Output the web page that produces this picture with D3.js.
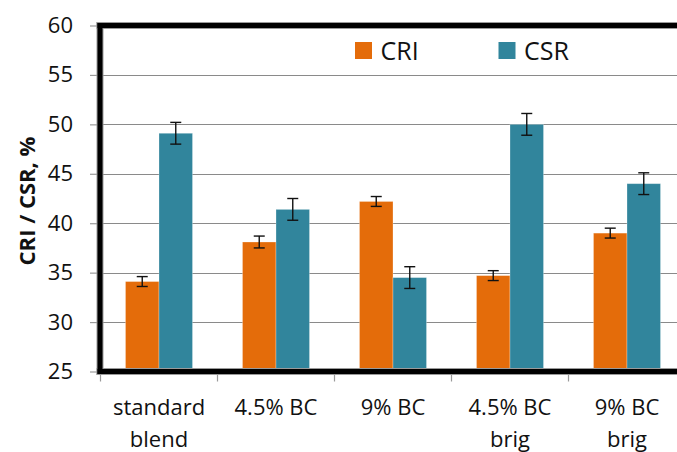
<!DOCTYPE html>
<html>
<head>
<meta charset="utf-8">
<script src="https://cdn.jsdelivr.net/npm/d3@7"></script>
<style>
  html, body { margin: 0; padding: 0; background: #fff; }
  svg { display: block; font-family: "Open Sans", "Noto Sans", sans-serif; }
</style>
</head>
<body>
<svg id="chart" width="677" height="452"></svg>
<script>
// Blend categories (two-line labels)
const categories = ["standard blend", "4.5% BC", "9% BC", "4.5% BC brig", "9% BC brig"];
const categoryLines = [["standard", "blend"], ["4.5% BC"], ["9% BC"], ["4.5% BC", "brig"], ["9% BC", "brig"]];
const seriesNames = ["CRI", "CSR"];
const criValues = [34.1, 38.1, 42.2, 34.7, 39.0];
const criErrors = [0.5, 0.6, 0.5, 0.5, 0.5];
const csrValues = [49.1, 41.4, 34.5, 50.0, 44.0];
const csrErrors = [1.1, 1.1, 1.1, 1.1, 1.1];
const yTicks = [25, 30, 35, 40, 45, 50, 55, 60];
const colors = { CRI: "#E46C0A", CSR: "#31859C" };

const svg = d3.select("#chart");
const plot = { left: 100.5, right: 685.5, top: 25.5, bottom: 371.5 };

const x0 = d3.scaleBand()
  .domain(categories)
  .range([plot.left, plot.right])
  .paddingInner(0.427)
  .paddingOuter(0.2135);
const x1 = d3.scaleBand()
  .domain(seriesNames)
  .range([0, x0.bandwidth()]);
const y = d3.scaleLinear().domain([25, 60]).range([plot.bottom, plot.top]);

// Horizontal gridlines
svg.append("g")
  .selectAll("line")
  .data(yTicks.filter(t => t > 25 && t < 60))
  .join("line")
  .attr("x1", plot.left).attr("x2", plot.right)
  .attr("y1", d => Math.round(y(d)) + 0.5).attr("y2", d => Math.round(y(d)) + 0.5)
  .attr("stroke", "#8a8a8a").attr("stroke-width", 1.2);

// Bars
const rows = categories.map((c, i) => [
  { cat: c, s: "CRI", v: criValues[i], e: criErrors[i] },
  { cat: c, s: "CSR", v: csrValues[i], e: csrErrors[i] }
]).flat();

svg.append("g")
  .selectAll("rect")
  .data(rows)
  .join("rect")
  .attr("x", d => x0(d.cat) + x1(d.s))
  .attr("y", d => y(d.v))
  .attr("width", x1.bandwidth())
  .attr("height", d => y(25) - y(d.v))
  .attr("fill", d => colors[d.s])
  .attr("stroke", "#ffffff").attr("stroke-opacity", 0.35).attr("stroke-width", 0.8);

// Error bars
const eb = svg.append("g").attr("stroke", "#111").attr("stroke-width", 1.4).attr("fill", "none");
rows.forEach(d => {
  const cx = x0(d.cat) + x1(d.s) + x1.bandwidth() / 2;
  const yt = y(d.v + d.e), yb = y(d.v - d.e);
  eb.append("line").attr("x1", cx).attr("x2", cx).attr("y1", yt).attr("y2", yb);
  eb.append("line").attr("x1", cx - 5.5).attr("x2", cx + 5.5).attr("y1", yt).attr("y2", yt);
  eb.append("line").attr("x1", cx - 5.5).attr("x2", cx + 5.5).attr("y1", yb).attr("y2", yb);
});

// Plot frame: thick black edges with thin grey outlines
const frameX = plot.left - 0.5;
const frameSegs = [
  { x1: frameX, y1: plot.top, x2: plot.right + 10, y2: plot.top },
  { x1: frameX, y1: plot.top, x2: frameX, y2: plot.bottom },
  { x1: frameX, y1: plot.bottom, x2: plot.right + 10, y2: plot.bottom }
];
[["#9a9a9a", 7], ["#000000", 5]].forEach(([col, w]) => {
  svg.append("g")
    .selectAll("line")
    .data(frameSegs)
    .join("line")
    .attr("x1", d => d.x1).attr("y1", d => d.y1)
    .attr("x2", d => d.x2).attr("y2", d => d.y2)
    .attr("stroke", col).attr("stroke-width", w).attr("stroke-linecap", "square");
});

// Y axis
const yAxis = svg.append("g")
  .attr("transform", `translate(${plot.left - 3.5},0)`)
  .call(d3.axisLeft(y).tickValues(yTicks).tickSize(7).tickPadding(17).tickFormat(d3.format("d")));
yAxis.select(".domain").remove();
yAxis.selectAll(".tick line").attr("stroke", "#9a9a9a").attr("stroke-width", 1.2);
yAxis.selectAll(".tick text")
  .attr("font-size", 22).attr("fill", "#111")
  .attr("font-family", "'Open Sans', sans-serif");

// X axis ticks between categories
const step = x0.step();
const boundaries = d3.range(categories.length + 1).map(i => plot.left + i * step);
svg.append("g")
  .selectAll("line")
  .data(boundaries)
  .join("line")
  .attr("x1", d => d).attr("x2", d => d)
  .attr("y1", plot.bottom + 3.5).attr("y2", plot.bottom + 10)
  .attr("stroke", "#9a9a9a").attr("stroke-width", 1.2);

// Category labels
const lab = svg.append("g").attr("font-size", 22).attr("fill", "#111").attr("text-anchor", "middle");
categories.forEach((c, i) => {
  const cx = x0(c) + x0.bandwidth() / 2;
  categoryLines[i].forEach((line, j) => {
    lab.append("text").attr("x", cx).attr("y", 415 + j * 32).text(line);
  });
});

// Y axis title
svg.append("text")
  .attr("transform", "translate(35,201) rotate(-90)")
  .attr("text-anchor", "middle")
  .attr("font-size", 22).attr("font-weight", "bold").attr("fill", "#111")
  .text("CRI / CSR, %");

// Legend
const legendItems = [{ s: "CRI", x: 355 }, { s: "CSR", x: 498.5 }];
const lg = svg.append("g");
legendItems.forEach(it => {
  lg.append("rect").attr("x", it.x).attr("y", 42).attr("width", 17).attr("height", 17)
    .attr("fill", colors[it.s]);
  lg.append("text").attr("x", it.x + 25.5).attr("y", 60)
    .attr("font-size", 25).attr("fill", "#111").text(it.s);
});
</script>
</body>
</html>
